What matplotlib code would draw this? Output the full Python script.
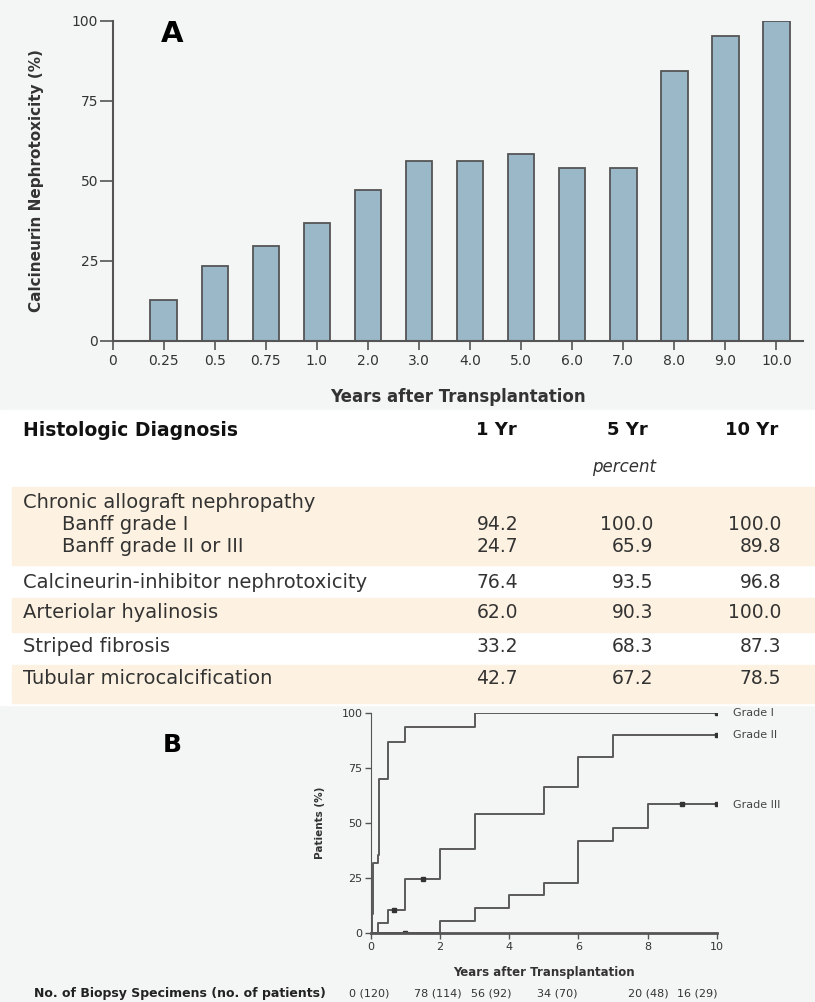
import numpy as np
import matplotlib
matplotlib.use("Agg")
import matplotlib.pyplot as plt
from matplotlib.patches import Rectangle

plt.rcParams['font.family'] = ['DejaVu Sans']

# panel A data
years_a = ['0', '0.25', '0.5', '0.75', '1.0', '2.0', '3.0', '4.0', '5.0',
           '6.0', '7.0', '8.0', '9.0', '10.0']
cni_pct = [np.nan, 12.8, 23.5, 29.8, 36.8, 47.2, 56.3, 56.3, 58.5,
           54.1, 54.1, 84.4, 95.2, 100.0]

# table data
row_labels = ['Chronic allograft nephropathy', 'Banff grade I', 'Banff grade II or III',
              'Calcineurin-inhibitor nephrotoxicity', 'Arteriolar hyalinosis',
              'Striped fibrosis', 'Tubular microcalcification']
yr1 = ['', '94.2', '24.7', '76.4', '62.0', '33.2', '42.7']
yr5 = ['', '100.0', '65.9', '93.5', '90.3', '68.3', '67.2']
yr10 = ['', '100.0', '89.8', '96.8', '100.0', '87.3', '78.5']

# panel B data (cumulative % of patients, step after)
t_g1 = [0, 0.04, 0.08, 0.2, 0.25, 0.5, 1.0, 3.0, 10]
p_g1 = [0, 9, 32, 35.5, 70, 87, 94, 100, 100]
t_g2 = [0, 0.2, 0.5, 1.0, 2.0, 3.0, 5.0, 6.0, 7.0, 10]
p_g2 = [0, 4.7, 10.8, 24.8, 38.3, 54.4, 66.5, 80, 90, 90]
t_g3 = [0, 2.0, 3.0, 4.0, 5.0, 6.0, 7.0, 8.0, 10]
p_g3 = [0, 5.8, 11.6, 17.5, 22.9, 41.9, 48, 58.8, 58.8]
cens_t = [0.66, 1.5, 1.0, 9.0, 10, 10, 10]
cens_p = [10.8, 24.8, 0, 58.8, 100, 90, 58.8]
grade_names = ['Grade I', 'Grade II', 'Grade III']

biopsy_counts = ['0 (120)', '78 (114)', '56 (92)', '34 (70)', '20 (48)', '16 (29)']

W, H = 815, 1002
def box(l, t, r, b):
    return [l / W, 1 - b / H, (r - l) / W, (b - t) / H]
def fx(x):
    return x / W
def fy(y):
    return 1 - y / H

fig = plt.figure(figsize=(W / 100, H / 100), dpi=100, facecolor='#f4f6f6')
edge = '#555555'
txt = '#333333'

# ---------- panel A ----------
axA = fig.add_axes(box(112.7, 21, 803, 341))
axA.set_facecolor('none')
xa = np.arange(len(years_a))
axA.bar(xa, cni_pct, width=0.52, color='#9bb8c9', edgecolor=edge, linewidth=1.3)
axA.set_xlim(0, 13.52)
axA.set_ylim(0, 100)
axA.set_xticks(xa)
axA.set_xticklabels(years_a, fontsize=10, color=txt)
axA.set_yticks([0, 25, 50, 75, 100])
axA.tick_params(axis='y', length=9.5, width=1.2, color=edge, pad=1, labelsize=10, labelcolor=txt)
axA.tick_params(axis='x', length=6.5, width=1.2, color=edge, pad=3)
for s in ['top', 'right']:
    axA.spines[s].set_visible(False)
for s in ['left', 'bottom']:
    axA.spines[s].set_color(edge)
    axA.spines[s].set_linewidth(1.5)
axA.set_ylabel('Calcineurin Nephrotoxicity (%)', fontsize=11, fontweight='bold', color=txt, labelpad=20)
axA.set_xlabel('Years after Transplantation', fontsize=12, fontweight='bold', color=txt, labelpad=14)
fig.text(fx(172), fy(34), 'A', fontsize=21, fontweight='bold', ha='center', va='center')

# ---------- table ----------
fig.patches.append(Rectangle((0, fy(705)), 1, fy(410) - fy(705), transform=fig.transFigure,
                             color='white', zorder=0))
shade = '#fdf2e1'
for top, bot in [(487, 565), (598, 632), (665, 703)]:
    fig.patches.append(Rectangle((fx(12), fy(bot)), 1 - fx(12), fy(top) - fy(bot),
                                 transform=fig.transFigure, color=shade, zorder=0))
fig.text(fx(23), fy(430), 'Histologic Diagnosis', fontsize=13.5, fontweight='bold', va='center', color='#111111')
for xr, h in zip([517, 648, 778], ['1 Yr', '5 Yr', '10 Yr']):
    fig.text(fx(xr), fy(430), h, fontsize=13, fontweight='bold', va='center', ha='right', color='#111111')
fig.text(fx(624), fy(467), 'percent', fontsize=12, style='italic', va='center', ha='center', color=txt)
row_y = [502, 525, 547, 582, 613, 647, 679]
indent = [23, 62, 62, 23, 23, 23, 23]
for lab, y, xi, a, b, c in zip(row_labels, row_y, indent, yr1, yr5, yr10):
    fig.text(fx(xi), fy(y), lab, fontsize=14, va='center', color=txt)
    fig.text(fx(518), fy(y), a, fontsize=13.5, va='center', ha='right', color=txt)
    fig.text(fx(653), fy(y), b, fontsize=13.5, va='center', ha='right', color=txt)
    fig.text(fx(781), fy(y), c, fontsize=13.5, va='center', ha='right', color=txt)

# ---------- panel B ----------
axB = fig.add_axes(box(370.7, 713.3, 717, 933.3))
axB.set_facecolor('none')
for t, p in [(t_g1, p_g1), (t_g2, p_g2), (t_g3, p_g3)]:
    axB.step(t, p, where='post', color='#5a5a5a', linewidth=1.4)
axB.plot(cens_t, cens_p, 's', ms=2.2, color='#333333', ls='none')
axB.set_xlim(0, 10)
axB.set_ylim(0, 100)
axB.set_xticks([0, 2, 4, 6, 8, 10])
axB.set_yticks([0, 25, 50, 75, 100])
axB.tick_params(length=4, width=1, color=edge, pad=2, labelsize=8, labelcolor=txt)
for s in ['top', 'right']:
    axB.spines[s].set_visible(False)
axB.spines['left'].set_color(edge)
axB.spines['bottom'].set_color(edge)
axB.spines['bottom'].set_linewidth(2)
axB.set_ylabel('Patients (%)', fontsize=7.5, fontweight='bold', color=txt, labelpad=12)
axB.set_xlabel('Years after Transplantation', fontsize=8.5, fontweight='bold', color=txt, labelpad=10)
for name, y in zip(grade_names, [713, 735, 805]):
    fig.text(fx(733), fy(y), name, fontsize=8, va='center', color='#444444')
fig.text(fx(172), fy(745), 'B', fontsize=18, fontweight='bold', ha='center', va='center')

fig.text(fx(34), fy(993), 'No. of Biopsy Specimens (no. of patients)', fontsize=9,
         fontweight='bold', va='center', color='#222222')
for xc, s in zip([369, 438, 491, 557, 648, 697], biopsy_counts):
    fig.text(fx(xc), fy(993), s, fontsize=8, va='center', ha='center', color=txt)

fig.savefig('out.png', dpi=100, facecolor=fig.get_facecolor())
